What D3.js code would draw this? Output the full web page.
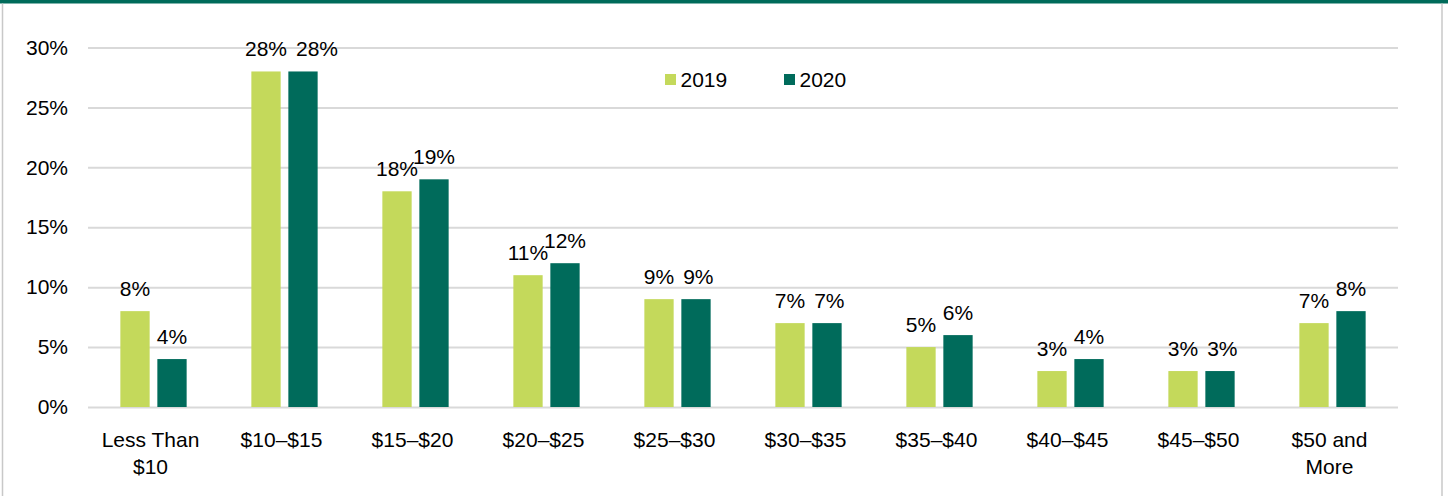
<!DOCTYPE html>
<html><head><meta charset="utf-8">
<script src="https://cdn.jsdelivr.net/npm/d3@7"></script>
<style>
html,body{margin:0;padding:0;background:#fff;}
svg{display:block;font-family:"Liberation Sans",Arial,sans-serif;}
</style></head>
<body>
<svg id="chart" width="1448" height="496"></svg>
<script>
const categories = ["Less Than\n$10","$10–$15","$15–$20","$20–$25","$25–$30","$30–$35","$35–$40","$40–$45","$45–$50","$50 and\nMore"];
const series = ["2019","2020"];
const values2019 = [8,28,18,11,9,7,5,3,3,7];
const values2020 = [4,28,19,12,9,7,6,4,3,8];
const yTicks = [0,5,10,15,20,25,30];
const colors = {"2019":"#c4d95b","2020":"#006b5b"};

const FS = "21px";
const svg = d3.select("#chart");
const W = 1448, H = 496;
const m = {left:88, right:1398, top:47.5, bottom:407};

// frame
svg.append("rect").attr("x",0).attr("y",0).attr("width",W).attr("height",3.5).attr("fill","#006b5a");
svg.append("line").attr("x1",2.5).attr("x2",2.5).attr("y1",3.5).attr("y2",H).attr("stroke","#c8c8c8").attr("stroke-width",1.5);
svg.append("line").attr("x1",1442).attr("x2",1442).attr("y1",3.5).attr("y2",H).attr("stroke","#c8c8c8").attr("stroke-width",1.5);

const x0 = d3.scaleBand().domain(categories).range([m.left,m.right]).paddingInner(0).paddingOuter(0);
const bw = x0.bandwidth();
const half = bw*0.253;
const x1 = d3.scaleBand().domain(series).range([bw/2-half, bw/2+half]).paddingInner(0.208).paddingOuter(0);
const y = d3.scaleLinear().domain([0,30]).range([m.bottom,m.top]);

// grid
const yAxis = d3.axisLeft(y).tickValues(yTicks).tickFormat(d=>d+"%").tickSize(-(m.right-m.left)).tickPadding(20);
const gy = svg.append("g").attr("transform",`translate(${m.left},0)`).call(yAxis);
gy.select(".domain").remove();
gy.selectAll(".tick line").attr("stroke","#d9d9d9").attr("stroke-width",2);
gy.selectAll(".tick text").attr("font-size",FS).attr("fill","#000").attr("font-family","Liberation Sans, Arial, sans-serif");

// bars
const data = categories.map((c,i)=>({cat:c, vals:[{s:"2019",v:values2019[i]},{s:"2020",v:values2020[i]}]}));
const groups = svg.append("g").selectAll("g").data(data).join("g")
  .attr("transform",d=>`translate(${x0(d.cat)},0)`);
groups.selectAll("rect").data(d=>d.vals).join("rect")
  .attr("x",d=>x1(d.s)).attr("width",x1.bandwidth())
  .attr("y",d=>y(d.v)).attr("height",d=>y(0)-y(d.v))
  .attr("fill",d=>colors[d.s]);
groups.each(function(){
  const labels = d3.select(this).selectAll("text.val").data(d=>d.vals).join("text").attr("class","val")
    .attr("x",d=>x1(d.s)+x1.bandwidth()/2).attr("y",d=>y(d.v)-15)
    .attr("text-anchor","middle").attr("font-size",FS).attr("fill","#000")
    .text(d=>d.v+"%");
  // avoid overlap of equal-height labels (shift the right one)
  const nodes = labels.nodes();
  const a = nodes[0].getBBox(), b = nodes[1].getBBox();
  const da = nodes[0].__data__, db = nodes[1].__data__;
  if (da.v === db.v && a.x + a.width + 8 > b.x) {
    const shift = a.x + a.width + 9 - b.x;
    d3.select(nodes[1]).attr("x", +d3.select(nodes[1]).attr("x") + shift);
  }
});

// x axis labels
categories.forEach(c=>{
  const lines = c.split("\n");
  const t = svg.append("text").attr("text-anchor","middle").attr("font-size",FS).attr("fill","#000");
  lines.forEach((l,i)=>{
    t.append("tspan").attr("x",x0(c)+bw/2 - 3).attr("y",447+i*27).text(l);
  });
});

// legend
const leg = [{s:"2019",x:665},{s:"2020",x:784}];
leg.forEach(d=>{
  svg.append("rect").attr("x",d.x).attr("y",74).attr("width",11).attr("height",11).attr("fill",colors[d.s]);
  svg.append("text").attr("x",d.x+15.5).attr("y",86.5).attr("font-size",FS).attr("fill","#000").text(d.s);
});
</script>
</body></html>
